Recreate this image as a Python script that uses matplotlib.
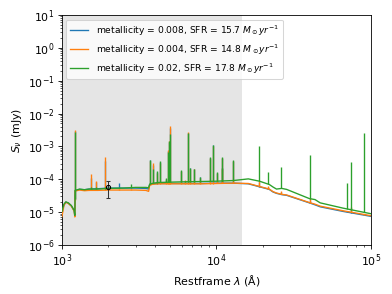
import numpy as np
import matplotlib
matplotlib.use("Agg")
import matplotlib.pyplot as plt

plt.rcParams["font.size"] = 10.5

# continuum nodes: wavelength (A) and log10 flux (mJy)
wl_uv = [1000, 1030, 1060, 1100, 1150, 1200, 1212, 1218, 1300, 1400, 1500, 1700,
         2000, 2500, 3000, 3500, 3640, 3700, 3900, 4200, 5000, 6000, 8000,
         10000, 12900]
wl_ir = [16100, 19000, 22000, 23300, 24500, 26500, 28500, 40000, 43500, 47000,
         66000, 100000]

green_uv = [-4.98, -4.76, -4.69, -4.72, -4.80, -4.95, -5.10, -4.34, -4.30, -4.32,
            -4.30, -4.30, -4.28, -4.27, -4.25, -4.25, -4.26, -4.15, -4.12, -4.10,
            -4.09, -4.08, -4.07, -4.06, -4.04]
green_ir = [-3.99, -4.06, -4.16, -4.24, -4.30, -4.28, -4.31, -4.59, -4.62, -4.72,
            -4.88, -5.05]

orange_uv = [-5.14, -4.80, -4.70, -4.74, -4.82, -4.97, -5.15, -4.36, -4.33, -4.35,
             -4.34, -4.34, -4.33, -4.33, -4.33, -4.34, -4.37, -4.18, -4.15, -4.14,
             -4.14, -4.14, -4.14, -4.13, -4.12]
orange_ir = [-4.13, -4.22, -4.30, -4.38, -4.42, -4.46, -4.48, -4.71, -4.76, -4.82,
             -4.96, -5.11]

blue_uv = [-5.05, -4.78, -4.70, -4.73, -4.81, -4.96, -5.12, -4.35, -4.31, -4.32,
           -4.30, -4.29, -4.27, -4.27, -4.27, -4.28, -4.30, -4.16, -4.14, -4.13,
           -4.13, -4.13, -4.13, -4.12, -4.12]
blue_ir = [-4.14, -4.23, -4.31, -4.39, -4.43, -4.47, -4.49, -4.72, -4.78, -4.84,
           -4.98, -5.13]

# emission lines: wavelength (A) and log10 peak flux per model
line_wl = [1216, 1549, 1663, 1909, 2326, 2800, 3727, 3869, 4102, 4340, 4686,
           4861, 4959, 5007, 5876, 6300, 6563, 6725, 7136, 7800, 9069, 9532,
           10050, 10830, 10940, 12820, 18750, 21660, 26260, 40500, 70300,
           74600, 90600]
green_peak = [-2.56, -4.25, -4.25, -4.25, -4.25, -4.15, -3.41, -3.70, -3.76, -3.46,
              -3.95, -3.16, -2.85, -2.62, -3.73, -4.05, -2.60, -3.65, -3.68, -3.92,
              -3.33, -2.95, -3.79, -3.33, -3.65, -3.43, -2.98, -3.78, -3.64, -3.26,
              -4.12, -3.48, -2.60]
orange_peak = [-2.50, -3.84, -4.04, -3.31, -4.30, -4.30, -3.45, -3.51, -3.80, -3.50,
               -4.00, -3.12, -2.85, -2.37, -3.75, -4.02, -2.57, -3.68, -3.70, -3.95,
               -3.36, -2.98, -3.82, -3.36, -3.68, -3.46, -4.05, -4.22, -4.36, -4.58,
               -4.96, -4.85, -5.05]
blue_peak = [-2.52, -3.95, -4.10, -3.45, -4.11, -4.27, -3.43, -3.58, -3.78, -3.48,
             -3.98, -3.14, -2.86, -2.45, -3.74, -4.04, -2.58, -3.67, -3.69, -3.94,
             -3.35, -2.97, -3.81, -3.35, -3.67, -3.45, -4.07, -4.24, -4.40, -4.62,
             -4.98, -4.88, -5.08]

labels = ["metallicity = 0.008, SFR = 15.7 $M_\\odot yr^{-1}$",
          "metallicity = 0.004, SFR = 14.8 $M_\\odot yr^{-1}$",
          "metallicity = 0.02, SFR = 17.8 $M_\\odot yr^{-1}$"]

# photometric point
obs_wl = 2000
obs_flux = 5.9e-5
obs_lo = 2.6e-5
obs_hi = 9.1e-5

fig = plt.figure(figsize=(392 / 75, 294 / 75), dpi=75)
ax = fig.add_axes([0.158, 0.167, 0.788, 0.782])

ax.axvspan(1e3, 1.46e4, color="gray", alpha=0.2, lw=0, zorder=0)

wl_all = np.array(wl_uv + wl_ir, dtype=float)
series = [(blue_uv + blue_ir, blue_peak, "C0"),
          (orange_uv + orange_ir, orange_peak, "C1"),
          (green_uv + green_ir, green_peak, "C2")]
for i, (cont, peak, col) in enumerate(series):
    cont = np.array(cont)
    ax.plot(wl_all, 10 ** cont, color=col, lw=1.3, label=labels[i], zorder=2 + i)
    base = np.interp(np.log10(line_wl), np.log10(wl_all), cont)
    peak = np.array(peak)
    keep = peak > base
    ax.vlines(np.array(line_wl)[keep], 10 ** base[keep], 10 ** peak[keep],
              color=col, lw=1.3, zorder=2 + i)

ax.errorbar([obs_wl], [obs_flux],
            yerr=[[obs_flux - obs_lo], [obs_hi - obs_flux]],
            fmt="o", mfc="none", mec="k", ecolor="0.2", ms=4, capsize=2,
            elinewidth=1, zorder=6)

ax.set_xscale("log")
ax.set_yscale("log")
ax.set_xlim(1e3, 1e5)
ax.set_ylim(1e-6, 1e1)
ax.set_yticks([10.0 ** k for k in range(-6, 2)])
ax.set_xlabel("Restframe $\\lambda$ (Å)")
ax.set_ylabel("$S_\\nu$ (mJy)")
ax.legend(loc="upper left", fontsize="small")

fig.savefig("out.png", dpi=75)
